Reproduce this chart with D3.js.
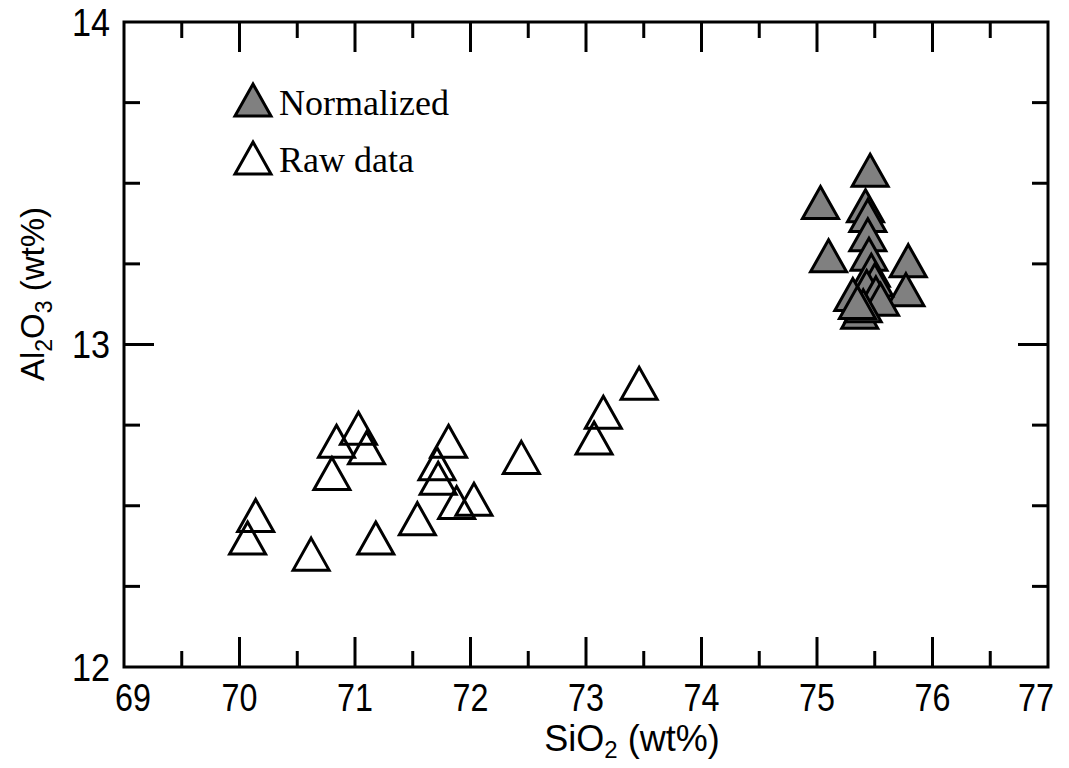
<!DOCTYPE html>
<html>
<head>
<meta charset="utf-8">
<script src="https://cdn.jsdelivr.net/npm/d3@7"></script>
<style>
  html, body { margin: 0; padding: 0; background: #fff; }
  svg { display: block; }
</style>
</head>
<body>
<svg id="chart" width="1069" height="768"></svg>
<script>
// ---- data ----
const rawSiO2   = [70.07, 70.14, 70.62, 70.80, 70.84, 71.03, 71.10, 71.18, 71.54, 71.71, 71.72, 71.81, 71.88, 72.03, 72.44, 73.07, 73.15, 73.46];
const rawAl2O3  = [12.40, 12.47, 12.35, 12.60, 12.70, 12.74, 12.68, 12.40, 12.46, 12.63, 12.585, 12.70, 12.51, 12.52, 12.65, 12.71, 12.79, 12.88];
const normSiO2  = [75.46, 75.03, 75.42, 75.44, 75.44, 75.45, 75.10, 75.79, 75.47, 75.77, 75.50, 75.43, 75.31, 75.51, 75.55, 75.37, 75.40, 75.35];
const normAl2O3 = [13.54, 13.44, 13.43, 13.40, 13.34, 13.28, 13.275, 13.26, 13.23, 13.17, 13.20, 13.18, 13.155, 13.16, 13.14, 13.10, 13.12, 13.13];
const xTicks = [69, 70, 71, 72, 73, 74, 75, 76, 77];
const yTicks = [12, 13, 14];
const xMinor = [69.5, 70.5, 71.5, 72.5, 73.5, 74.5, 75.5, 76.5];
const yMinor = [12.25, 12.5, 12.75, 13.25, 13.5, 13.75];

const svg = d3.select("#chart");
const L = 124, R = 1048, T = 22, B = 667;
const x = d3.scaleLinear().domain([69, 77]).range([L, R]);
const y = d3.scaleLinear().domain([12, 14]).range([B, T]);

const majorLen = 30, minorLen = 16, lw = 3;

// ticks (inward, all four sides)
const tickG = svg.append("g").attr("stroke", "#000").attr("stroke-width", lw);
xTicks.slice(1, -1).forEach(v => {
  tickG.append("line").attr("x1", x(v)).attr("x2", x(v)).attr("y1", B).attr("y2", B - majorLen);
  tickG.append("line").attr("x1", x(v)).attr("x2", x(v)).attr("y1", T).attr("y2", T + majorLen);
});
xMinor.forEach(v => {
  tickG.append("line").attr("x1", x(v)).attr("x2", x(v)).attr("y1", B).attr("y2", B - minorLen);
  tickG.append("line").attr("x1", x(v)).attr("x2", x(v)).attr("y1", T).attr("y2", T + minorLen);
});
yTicks.slice(1, -1).forEach(v => {
  tickG.append("line").attr("y1", y(v)).attr("y2", y(v)).attr("x1", L).attr("x2", L + majorLen);
  tickG.append("line").attr("y1", y(v)).attr("y2", y(v)).attr("x1", R).attr("x2", R - majorLen);
});
yMinor.forEach(v => {
  tickG.append("line").attr("y1", y(v)).attr("y2", y(v)).attr("x1", L).attr("x2", L + minorLen);
  tickG.append("line").attr("y1", y(v)).attr("y2", y(v)).attr("x1", R).attr("x2", R - minorLen);
});

// frame
svg.append("rect").attr("x", L).attr("y", T).attr("width", R - L).attr("height", B - T)
  .attr("fill", "none").attr("stroke", "#000").attr("stroke-width", lw);

// tick labels
const font = "'Liberation Sans', Arial, sans-serif";
svg.append("g").selectAll("text").data(xTicks).join("text")
  .attr("transform", (d, i) => {
    let px = x(d);
    if (i === 0) px += 9;
    if (i === xTicks.length - 1) px -= 12;
    return `translate(${px},711) scale(0.85,1)`;
  })
  .attr("text-anchor", "middle").attr("font-family", font).attr("font-size", 38)
  .text(d => d);

svg.append("g").selectAll("text").data(yTicks).join("text")
  .attr("transform", d => `translate(110,${y(d) + 13.5}) scale(0.9,1)`)
  .attr("text-anchor", "end").attr("font-family", font).attr("font-size", 38)
  .text(d => d);

// axis titles
const xt = svg.append("text").attr("transform", "translate(632,751)")
  .attr("text-anchor", "middle").attr("font-family", font).attr("font-size", 36);
xt.append("tspan").text("SiO");
xt.append("tspan").attr("font-size", 24).attr("dy", 7).text("2");
xt.append("tspan").attr("dy", -7).text(" (wt%)");

const yt = svg.append("text").attr("transform", "translate(44,294) rotate(-90)")
  .attr("text-anchor", "middle").attr("font-family", font).attr("font-size", 33);
yt.append("tspan").text("Al");
yt.append("tspan").attr("font-size", 23).attr("dy", 8).text("2");
yt.append("tspan").attr("dy", -8).text("O");
yt.append("tspan").attr("font-size", 23).attr("dy", 8).text("3");
yt.append("tspan").attr("dy", -8).text(" (wt%)");

// markers
const tri = "M0,-16L18,16L-18,16Z";
const rawData = rawSiO2.map((v, i) => ({ x: v, y: rawAl2O3[i] }));
const normData = normSiO2.map((v, i) => ({ x: v, y: normAl2O3[i] }));

svg.append("g").selectAll("path").data(rawData).join("path")
  .attr("d", tri).attr("transform", d => `translate(${x(d.x)},${y(d.y)})`)
  .attr("fill", "none").attr("stroke", "#000").attr("stroke-width", 3).attr("stroke-linejoin", "miter");

svg.append("g").selectAll("path").data(normData).join("path")
  .attr("d", tri).attr("transform", d => `translate(${x(d.x)},${y(d.y)})`)
  .attr("fill", "#808080").attr("stroke", "#000").attr("stroke-width", 3).attr("stroke-linejoin", "miter");

// legend
const legend = [
  { label: "Normalized", fill: "#808080", cy: 100, ty: 115 },
  { label: "Raw data", fill: "none", cy: 158, ty: 172 }
];
const lg = svg.append("g");
legend.forEach(d => {
  lg.append("path").attr("d", tri).attr("transform", `translate(253,${d.cy})`)
    .attr("fill", d.fill).attr("stroke", "#000").attr("stroke-width", 3);
  lg.append("text").attr("x", 279).attr("y", d.ty)
    .attr("font-family", "'Liberation Serif', 'Times New Roman', serif").attr("font-size", 36)
    .text(d.label);
});
</script>
</body>
</html>
